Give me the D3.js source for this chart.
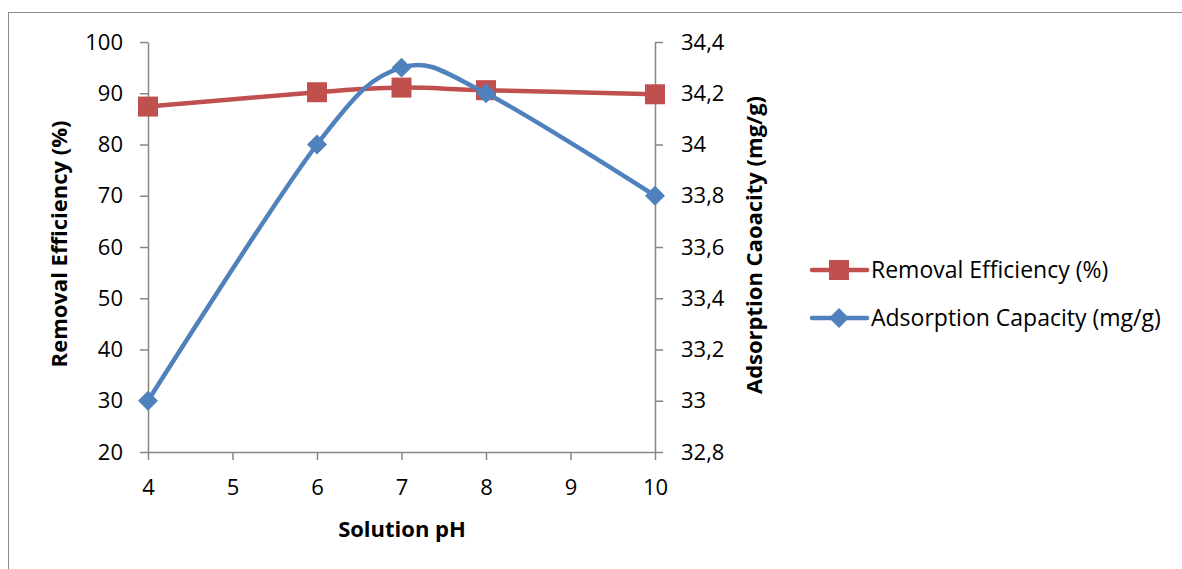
<!DOCTYPE html>
<html>
<head>
<meta charset="utf-8">
<script src="https://cdn.jsdelivr.net/npm/d3@7"></script>
<style>
  html, body { margin: 0; padding: 0; background: #fff; }
  svg { display: block; font-family: "Open Sans", "Noto Sans", sans-serif; }
</style>
</head>
<body>
<svg id="chart" width="1182" height="569"></svg>
<script>
// ---- data ----
const phValues = [4, 6, 7, 8, 10];
const removalEfficiency = [87.4, 90.2, 91.1, 90.6, 89.8];
const adsorptionCapacity = [33.0, 34.0, 34.3, 34.2, 33.8];
const xTicks = [4, 5, 6, 7, 8, 9, 10];
const leftTicks = [20, 30, 40, 50, 60, 70, 80, 90, 100];
const rightTicks = [32.8, 33.0, 33.2, 33.4, 33.6, 33.8, 34.0, 34.2, 34.4];
const rightTickLabels = ["32,8", "33", "33,2", "33,4", "33,6", "33,8", "34", "34,2", "34,4"];
const seriesNames = ["Removal Efficiency (%)", "Adsorption Capacity (mg/g)"];
const xTitle = "Solution pH";
const leftTitle = "Removal Efficiency (%)";
const rightTitle = "Adsorption Caoacity (mg/g)";

// ---- layout ----
const svg = d3.select("#chart");
const plot = { left: 148, right: 655, top: 42, bottom: 452 };
const red = "#C0504D", blue = "#4F81BD", axisColor = "#868686";

const x = d3.scaleLinear().domain([4, 10]).range([plot.left, plot.right]);
const yL = d3.scaleLinear().domain([20, 100]).range([plot.bottom, plot.top]);
const yR = d3.scaleLinear().domain([32.8, 34.4]).range([plot.bottom, plot.top]);

// outer chart border
svg.append("rect").attr("x", 8.5).attr("y", 12.5).attr("width", 1300).attr("height", 700)
  .attr("fill", "none").attr("stroke", "#8c8c8c").attr("stroke-width", 1);

function styleAxis(g) {
  g.select(".domain").attr("stroke", axisColor).attr("stroke-width", 1.5);
  g.selectAll(".tick line").attr("stroke", axisColor).attr("stroke-width", 1.5);
  g.selectAll(".tick text").attr("fill", "#000").style("font-size", "22px")
    .style("font-family", "'Open Sans', sans-serif");
}

const gx = svg.append("g").attr("transform", `translate(0,${plot.bottom})`)
  .call(d3.axisBottom(x).tickValues(xTicks).tickFormat(d3.format("d")).tickSize(8).tickSizeOuter(0).tickPadding(19));
styleAxis(gx);

const gl = svg.append("g").attr("transform", `translate(${plot.left},0)`)
  .call(d3.axisLeft(yL).tickValues(leftTicks).tickFormat(d3.format("d")).tickSize(8).tickSizeOuter(0).tickPadding(17));
styleAxis(gl);

const gr = svg.append("g").attr("transform", `translate(${plot.right},0)`)
  .call(d3.axisRight(yR).tickValues(rightTicks).tickFormat((d, i) => rightTickLabels[i]).tickSize(8).tickSizeOuter(0).tickPadding(18));
styleAxis(gr);

// axis titles
svg.append("text").attr("x", 402).attr("y", 537)
  .attr("text-anchor", "middle").style("font-size", "22px").style("font-weight", "bold").text(xTitle);
svg.append("text").attr("transform", `translate(67,244) rotate(-90)`)
  .attr("text-anchor", "middle").style("font-size", "22px").style("font-weight", "bold").text(leftTitle);
svg.append("text").attr("transform", `translate(762,245) rotate(-90)`)
  .attr("text-anchor", "middle").style("font-size", "22px").style("font-weight", "bold").text(rightTitle);

// ---- series ----
const curve = d3.curveCardinal.tension(0);
const redData = phValues.map((p, i) => [x(p), yL(removalEfficiency[i])]);
const blueData = phValues.map((p, i) => [x(p), yR(adsorptionCapacity[i])]);
const line = d3.line().curve(curve);

svg.append("path").attr("d", line(redData)).attr("fill", "none").attr("stroke", red)
  .attr("stroke-width", 4.5).attr("stroke-linejoin", "round");
svg.selectAll(".sq").data(redData).enter().append("rect")
  .attr("x", d => d[0] - 10).attr("y", d => d[1] - 10).attr("width", 20).attr("height", 20)
  .attr("fill", red);

svg.append("path").attr("d", line(blueData)).attr("fill", "none").attr("stroke", blue)
  .attr("stroke-width", 4.5).attr("stroke-linejoin", "round");
svg.selectAll(".dm").data(blueData).enter().append("path")
  .attr("d", d3.symbol().type(d3.symbolSquare).size(200))
  .attr("transform", d => `translate(${d[0]},${d[1]}) rotate(45)`)
  .attr("fill", blue);

// ---- legend ----
const legend = svg.append("g");
const legendY = [270, 318];
const colors = [red, blue];
seriesNames.forEach((name, i) => {
  const g = legend.append("g").attr("transform", `translate(0,${legendY[i]})`);
  g.append("line").attr("x1", 812).attr("x2", 867).attr("y1", 0).attr("y2", 0)
    .attr("stroke", colors[i]).attr("stroke-width", 4.5).attr("stroke-linecap", "round");
  if (i === 0) {
    g.append("rect").attr("x", 829).attr("y", -10).attr("width", 20).attr("height", 20).attr("fill", red);
  } else {
    g.append("path").attr("d", d3.symbol().type(d3.symbolSquare).size(200))
      .attr("transform", "translate(839,0) rotate(45)").attr("fill", blue);
  }
  g.append("text").attr("x", 871).attr("y", 0).attr("dy", "0.35em")
    .style("font-size", "23px").text(name);
});
</script>
</body>
</html>
